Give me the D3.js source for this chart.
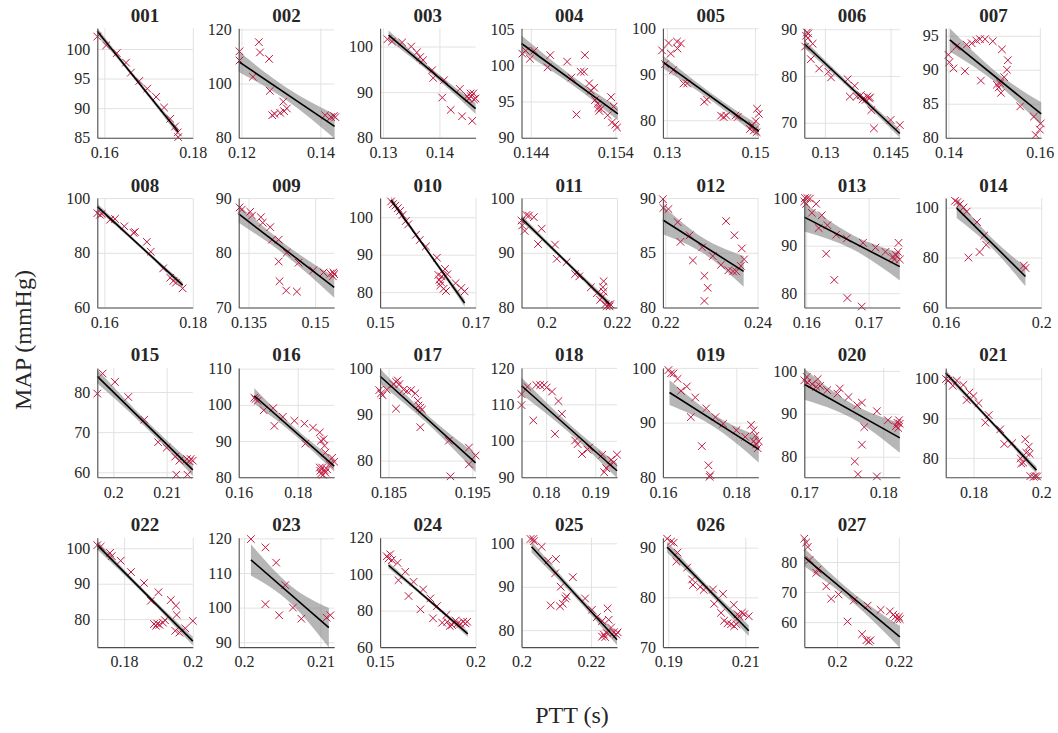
<!DOCTYPE html>
<html><head><meta charset="utf-8">
<script src="https://cdn.jsdelivr.net/npm/d3@7"></script>
<style>
body{margin:0;background:#fff}
svg{display:block}
text{font-family:"Liberation Serif",serif;fill:#262626}
</style>
</head><body>
<svg id="c" width="1058" height="733"></svg>
<script>
// ---------------- DATA ----------------
const panelIds = ["001","002","003","004","005","006","007","008","009","010","011","012","013","014","015","016","017","018","019","020","021","022","023","024","025","026","027"];

const xDomains = [[0.1584,0.18],[0.1193,0.1435],[0.1295,0.1464],[0.1429,0.1542],[0.1291,0.1508],[0.1253,0.1471],[0.1394,0.1603],
  [0.1584,0.18],[0.1328,0.1543],[0.15,0.17],[0.1929,0.22],[0.2195,0.2402],[0.1597,0.175],[0.16,0.2],
  [0.197,0.2149],[0.16,0.1924],[0.184,0.1954],[0.175,0.1944],[0.16,0.186],[0.17,0.1821],[0.1718,0.2],
  [0.1722,0.2],[0.1993,0.2118],[0.15,0.2],[0.2,0.2275],[0.1886,0.2134],[0.1894,0.2203]];
const yDomains = [[85,103.5],[80,120.4],[80,104],[90,105.1],[76.2,100],[66.8,90.2],[80,96.1],
  [60,100],[70,90],[75.9,105.1],[80,100],[80,90],[77,100],[60,103.8],
  [58.75,86],[80,110.2],[76.4,100],[90,120],[80,100],[75.2,100.7],[75.1,102.7],
  [72.1,103],[88.6,120.2],[60,120],[76.1,101.3],[70,92],[51.7,88.1]];
const xTicks = [[0.16,0.18],[0.12,0.14],[0.13,0.14],[0.144,0.154],[0.13,0.15],[0.13,0.145],[0.14,0.16],
  [0.16,0.18],[0.135,0.15],[0.15,0.17],[0.2,0.22],[0.22,0.24],[0.16,0.17],[0.16,0.2],
  [0.2,0.21],[0.16,0.18],[0.185,0.195],[0.18,0.19],[0.16,0.18],[0.17,0.18],[0.18,0.2],
  [0.18,0.2],[0.2,0.21],[0.15,0.2],[0.2,0.22],[0.19,0.21],[0.2,0.22]];
const yTicks = [[85,90,95,100],[80,100,120],[80,90,100],[90,95,100,105],[80,90,100],[70,80,90],[80,85,90,95],
  [60,80,100],[70,80,90],[80,90,100],[80,90,100],[80,85,90],[80,90,100],[60,80,100],
  [60,70,80],[80,90,100,110],[80,90,100],[90,100,110,120],[80,90,100],[80,90,100],[80,90,100],
  [80,90,100],[90,100,110,120],[60,80,100,120],[80,90,100],[70,80,90],[60,70,80]];

// regression line end points [xStart, yStart, xEnd, yEnd]
const fitLines = [[0.1584,103.0,0.1767,86.0],[0.1193,108.1,0.1436,84.2],[0.1310,102.5,0.1464,86.4],[0.1429,103.0,0.1543,93.3],
  [0.1291,92.7,0.1509,77.6],[0.1253,86.9,0.1471,67.7],[0.1403,94.4,0.1603,83.5],[0.1584,96.9,0.1777,68.2],
  [0.1328,87.1,0.1543,73.7],[0.1523,104.6,0.1677,77.1],[0.1929,96.3,0.2179,80.6],[0.2195,88.0,0.2370,83.3],
  [0.1597,96.0,0.1750,85.6],[0.1646,99.8,0.1934,72.4],[0.1970,83.9,0.2149,60.6],[0.1653,102.5,0.1924,83.1],
  [0.1840,98.2,0.1954,79.5],[0.1750,115.1,0.1944,91.8],[0.1618,95.5,0.1861,85.1],[0.1700,96.9,0.1821,84.4],
  [0.1718,101.4,0.1986,76.9],[0.1722,100.9,0.2000,73.8],[0.2009,113.8,0.2111,94.2],[0.1544,104.9,0.1959,67.2],
  [0.2029,99.2,0.2275,77.8],[0.1897,90.1,0.2109,73.3],[0.1894,81.6,0.2203,55.1]];
// confidence band half-width at start, middle, end of the line
const bandHalf = [[0.6,0.35,0.6],[3.8,2.3,4.5],[1.0,0.6,1.2],[1.1,0.6,0.9],[1.4,0.8,1.3],[0.9,0.5,0.9],[1.7,0.8,1.7],
  [1.1,0.6,1.1],[1.6,1.0,1.9],[0.9,0.5,1.0],[0.6,0.35,0.6],[1.3,0.7,1.4],[3.0,1.5,2.9],[4.0,2.0,3.9],
  [1.7,0.9,1.5],[2.1,1.0,1.6],[1.6,0.9,2.0],[2.3,1.2,2.0],[2.3,1.1,2.4],[3.6,1.7,3.5],[0.8,0.5,0.9],
  [1.2,0.6,1.2],[4.5,2.5,5.7],[1.6,0.9,1.6],[1.3,0.7,1.3],[1.1,0.6,1.1],[3.0,1.6,3.6]];

// measurements [PTT, MAP]
const pts001 = [[0.1584,102.1],[0.1604,100.6],[0.1628,99.3],[0.1649,97.7],[0.1660,96.0],[0.1679,94.6],[0.1697,93.3],[0.1717,91.9],[0.1735,90.1],[0.1749,88.2],[0.1760,86.9],[0.1766,85.9],[0.1767,85.1]];
const pts002 = [[0.1195,111.9],[0.1195,108.5],[0.1229,102.5],[0.1244,115.3],[0.1247,111.5],[0.1270,109.1],[0.1272,97.3],[0.1278,88.3],[0.1284,88.8],[0.1298,89.2],[0.1306,93.3],[0.1308,89.8],[0.1315,90.8],[0.1412,88.3],[0.1427,87.6],[0.1434,88.0],[0.1438,87.6]];
const pts003 = [[0.1308,101.6],[0.1316,101.1],[0.1334,100.9],[0.1350,100.0],[0.1360,98.7],[0.1366,97.7],[0.1371,97.0],[0.1387,94.8],[0.1389,93.1],[0.1408,92.6],[0.1405,88.8],[0.1420,86.1],[0.1436,90.7],[0.1440,84.7],[0.1449,89.1],[0.1452,88.6],[0.1455,89.7],[0.1456,89.0],[0.1458,83.7],[0.1460,89.7],[0.1461,88.4],[0.1464,88.6]];
const pts004 = [[0.1430,101.6],[0.1434,102.0],[0.1439,100.9],[0.1444,102.0],[0.1460,99.7],[0.1463,101.4],[0.1483,100.5],[0.1488,98.3],[0.1494,93.2],[0.1499,99.1],[0.1503,99.1],[0.1504,101.4],[0.1509,97.5],[0.1511,96.5],[0.1515,96.9],[0.1516,95.2],[0.1519,94.7],[0.1520,94.1],[0.1521,93.7],[0.1523,94.0],[0.1531,93.1],[0.1535,95.6],[0.1536,92.1],[0.1538,94.3],[0.1540,91.8],[0.1542,91.4]];
const pts005 = [[0.1289,95.2],[0.1296,92.2],[0.1304,96.8],[0.1309,94.5],[0.1314,90.9],[0.1323,97.1],[0.1324,95.6],[0.1332,96.7],[0.1338,88.0],[0.1346,88.0],[0.1385,84.0],[0.1391,84.5],[0.1423,81.0],[0.1429,80.7],[0.1435,81.0],[0.1456,81.0],[0.1461,80.7],[0.1489,78.1],[0.1494,78.9],[0.1498,77.8],[0.1502,79.8],[0.1504,77.4],[0.1505,82.5],[0.1509,81.4]];
const pts006 = [[0.1255,86.3],[0.1257,88.6],[0.1259,89.3],[0.1261,88.1],[0.1262,89.1],[0.1268,83.6],[0.1272,86.9],[0.1287,81.6],[0.1308,80.9],[0.1314,79.7],[0.1352,79.3],[0.1357,75.6],[0.1368,77.9],[0.1373,75.6],[0.1382,75.9],[0.1386,75.0],[0.1393,74.9],[0.1397,75.6],[0.1401,75.2],[0.1403,75.4],[0.1406,72.7],[0.1412,68.8],[0.1450,70.6],[0.1471,69.5]];
const pts007 = [[0.1400,92.2],[0.1402,91.1],[0.1411,90.2],[0.1417,93.4],[0.1436,89.8],[0.1440,93.7],[0.1451,93.9],[0.1461,94.3],[0.1469,94.5],[0.1471,88.4],[0.1480,94.5],[0.1497,94.2],[0.1506,87.8],[0.1510,87.4],[0.1513,88.0],[0.1515,86.6],[0.1517,93.0],[0.1522,88.9],[0.1528,90.0],[0.1530,91.4],[0.1557,84.6],[0.1587,83.1],[0.1591,80.4],[0.1600,81.2],[0.1602,82.1]];
const pts008 = [[0.1584,94.5],[0.1590,93.9],[0.1594,94.2],[0.1613,92.1],[0.1624,92.4],[0.1645,89.7],[0.1666,87.3],[0.1669,87.6],[0.1696,84.0],[0.1705,80.4],[0.1733,74.3],[0.1749,70.9],[0.1756,69.7],[0.1762,69.1],[0.1777,67.0]];
const pts009 = [[0.1330,88.3],[0.1335,87.9],[0.1354,87.5],[0.1358,86.8],[0.1378,86.5],[0.1382,85.5],[0.1399,84.7],[0.1403,82.4],[0.1418,82.4],[0.1418,78.4],[0.1420,74.8],[0.1436,80.0],[0.1435,73.1],[0.1459,72.9],[0.1463,78.2],[0.1496,76.8],[0.1519,76.4],[0.1535,76.2],[0.1540,75.7],[0.1541,76.4],[0.1543,76.1]];
const pts010 = [[0.1523,104.2],[0.1527,103.5],[0.1532,103.1],[0.1537,102.4],[0.1542,101.7],[0.1547,100.6],[0.1554,99.0],[0.1559,98.1],[0.1575,95.3],[0.1583,93.9],[0.1596,92.2],[0.1619,89.2],[0.1622,84.6],[0.1624,83.3],[0.1626,81.8],[0.1627,82.7],[0.1629,84.2],[0.1633,80.9],[0.1636,86.2],[0.1638,80.3],[0.1641,84.8],[0.1658,82.4],[0.1670,81.1],[0.1677,80.2]];
const pts011 = [[0.1929,95.9],[0.1931,95.0],[0.1938,94.0],[0.1943,96.9],[0.1950,96.8],[0.1964,96.5],[0.1976,91.6],[0.1986,94.4],[0.2024,91.5],[0.2029,88.9],[0.2057,88.3],[0.2081,86.1],[0.2093,85.7],[0.2126,83.7],[0.2143,82.6],[0.2152,81.4],[0.2160,82.0],[0.2162,84.8],[0.2160,83.7],[0.2162,82.9],[0.2167,80.6],[0.2171,80.2],[0.2176,80.5],[0.2179,80.2],[0.2181,80.6]];
const pts012 = [[0.2195,89.9],[0.2196,89.1],[0.2207,89.0],[0.2227,87.8],[0.2233,86.0],[0.2253,86.6],[0.2260,84.3],[0.2280,85.5],[0.2285,82.9],[0.2292,81.8],[0.2285,80.6],[0.2303,84.7],[0.2321,83.9],[0.2332,87.9],[0.2337,83.4],[0.2347,83.3],[0.2350,86.6],[0.2354,83.3],[0.2364,83.8],[0.2366,85.4],[0.2371,84.4]];
const pts013 = [[0.1597,99.3],[0.1598,100.0],[0.1600,98.8],[0.1602,100.0],[0.1606,99.9],[0.1609,96.9],[0.1616,98.8],[0.1620,93.7],[0.1625,96.4],[0.1632,88.3],[0.1634,94.3],[0.1645,82.8],[0.1648,92.3],[0.1665,91.5],[0.1666,79.0],[0.1689,77.2],[0.1691,90.6],[0.1711,89.6],[0.1727,88.7],[0.1739,87.7],[0.1741,87.1],[0.1744,88.0],[0.1747,88.7],[0.1748,90.6],[0.1750,87.1]];
const pts014 = [[0.1639,102.7],[0.1649,102.2],[0.1660,101.4],[0.1674,100.0],[0.1688,98.4],[0.1731,94.2],[0.1761,88.8],[0.1770,85.1],[0.1742,82.2],[0.1695,80.0],[0.1927,76.8],[0.1934,75.8]];
const pts015 = [[0.1970,79.6],[0.1980,84.6],[0.2003,82.5],[0.2028,78.75],[0.2058,73.1],[0.2084,67.5],[0.2100,66.1],[0.2116,63.9],[0.2118,59.4],[0.2124,62.9],[0.2138,63.3],[0.2139,59.4],[0.2143,62.75],[0.2145,63.3],[0.2149,62.9]];
const pts016 = [[0.1653,102.0],[0.1657,101.6],[0.1664,101.1],[0.1685,98.5],[0.1717,99.1],[0.1721,94.2],[0.1750,96.7],[0.1789,95.6],[0.1823,94.8],[0.1826,89.3],[0.1852,93.7],[0.1875,92.4],[0.1879,90.1],[0.1888,90.5],[0.1891,88.7],[0.1894,86.8],[0.1875,82.7],[0.1877,81.8],[0.1879,81.0],[0.1883,82.7],[0.1886,80.7],[0.1891,82.0],[0.1894,81.3],[0.1900,82.2],[0.1908,83.6],[0.1917,85.4],[0.1924,84.3]];
const pts017 = [[0.1839,95.2],[0.1841,94.5],[0.1843,94.1],[0.1848,95.3],[0.1856,96.5],[0.1859,97.0],[0.1861,97.3],[0.1859,91.2],[0.1863,96.5],[0.1868,95.3],[0.1872,95.0],[0.1877,95.2],[0.1882,94.5],[0.1885,92.9],[0.1886,91.9],[0.1888,91.4],[0.1890,91.0],[0.1888,87.2],[0.1922,84.3],[0.1924,76.6],[0.1946,82.8],[0.1946,79.2],[0.1954,81.1]];
const pts018 = [[0.1750,109.8],[0.1750,112.8],[0.1762,114.8],[0.1774,105.6],[0.1780,115.3],[0.1788,115.3],[0.1796,115.3],[0.1801,114.6],[0.1812,113.5],[0.1818,101.9],[0.1825,110.9],[0.1832,107.4],[0.1859,100.1],[0.1864,99.1],[0.1873,96.4],[0.1884,97.6],[0.1888,98.2],[0.1914,96.2],[0.1918,91.4],[0.1922,92.5],[0.1929,93.4],[0.1932,94.8],[0.1937,94.1],[0.1944,96.2]];
const pts019 = [[0.1615,99.6],[0.1622,99.0],[0.1629,99.0],[0.1640,98.0],[0.1649,95.8],[0.1665,96.6],[0.1676,91.0],[0.1688,94.6],[0.1706,85.7],[0.1718,92.6],[0.1724,82.2],[0.1729,80.4],[0.1727,80.1],[0.1743,91.0],[0.1764,89.8],[0.1800,88.6],[0.1824,87.4],[0.1840,89.6],[0.1847,88.6],[0.1852,87.6],[0.1854,86.0],[0.1858,85.3],[0.1861,86.6],[0.1847,86.6]];
const pts020 = [[0.1700,97.8],[0.1703,98.6],[0.1704,97.3],[0.1710,96.9],[0.1715,96.3],[0.1717,98.1],[0.1720,96.5],[0.1729,95.5],[0.1742,94.7],[0.1745,95.9],[0.1756,93.9],[0.1767,92.0],[0.1773,92.6],[0.1776,86.9],[0.1773,82.8],[0.1764,78.9],[0.1768,75.9],[0.1792,75.4],[0.1792,90.6],[0.1806,88.5],[0.1816,87.1],[0.1818,87.9],[0.1819,86.7],[0.1820,88.5],[0.1821,87.7]];
const pts021 = [[0.1719,99.9],[0.1726,99.5],[0.1739,98.2],[0.1751,99.5],[0.1770,98.4],[0.1780,94.6],[0.1788,96.5],[0.1800,95.6],[0.1815,93.8],[0.1835,88.9],[0.1845,90.8],[0.1879,87.2],[0.1891,83.5],[0.1914,83.7],[0.1939,79.9],[0.1941,78.6],[0.1947,78.8],[0.1953,84.7],[0.1956,81.3],[0.1963,82.8],[0.1966,81.0],[0.1968,75.4],[0.1978,75.2],[0.1983,75.4],[0.1988,75.3]];
const pts022 = [[0.1722,100.9],[0.1732,100.5],[0.1759,98.7],[0.1764,97.8],[0.1790,96.5],[0.1820,93.3],[0.1858,90.2],[0.1878,85.2],[0.1900,87.6],[0.1887,78.6],[0.1893,78.1],[0.1897,78.7],[0.1903,78.4],[0.1913,79.0],[0.1919,79.7],[0.1936,85.4],[0.1951,83.8],[0.1953,81.2],[0.1949,76.7],[0.1961,76.2],[0.1978,77.4],[0.2000,79.5]];
const pts023 = [[0.2009,119.8],[0.2028,117.4],[0.2028,101.0],[0.2042,113.0],[0.2046,97.8],[0.2054,106.5],[0.2064,100.0],[0.2075,96.8],[0.2108,97.1],[0.2113,97.8]];
const pts024 = [[0.1535,109.8],[0.1544,108.6],[0.1553,110.9],[0.1562,107.7],[0.1591,106.2],[0.1596,96.7],[0.1632,101.3],[0.1649,88.0],[0.1675,95.8],[0.1711,80.7],[0.1725,91.6],[0.1763,86.7],[0.1777,75.8],[0.1798,82.5],[0.1825,73.4],[0.1847,77.6],[0.1851,73.9],[0.1865,71.6],[0.1877,72.1],[0.1895,74.5],[0.1907,73.0],[0.1921,72.7],[0.1935,73.9],[0.1947,73.0],[0.1956,73.9]];
const pts025 = [[0.2026,101.0],[0.2034,101.0],[0.2036,100.5],[0.2058,99.2],[0.2077,96.0],[0.2084,85.7],[0.2099,96.4],[0.2097,93.1],[0.2111,85.5],[0.2113,90.0],[0.2119,86.1],[0.2126,87.3],[0.2130,87.8],[0.2148,92.2],[0.2183,87.3],[0.2203,84.7],[0.2217,83.0],[0.2232,82.1],[0.2232,78.5],[0.2237,79.0],[0.2241,78.4],[0.2246,79.3],[0.2248,85.0],[0.2251,82.4],[0.2258,80.6],[0.2266,79.5],[0.2273,79.0],[0.2277,79.5]];
const pts026 = [[0.1897,91.8],[0.1907,91.2],[0.1914,91.0],[0.1924,89.0],[0.1921,87.2],[0.1949,86.0],[0.1962,83.6],[0.1964,82.5],[0.1983,82.1],[0.1992,81.5],[0.2016,81.6],[0.2019,78.7],[0.2037,76.9],[0.2042,80.7],[0.2045,75.3],[0.2054,74.8],[0.2063,74.6],[0.2071,74.2],[0.2077,74.6],[0.2070,78.5],[0.2080,76.6],[0.2085,76.2],[0.2091,76.9],[0.2097,76.6],[0.2109,76.2]];
const pts027 = [[0.1894,87.8],[0.1900,86.5],[0.1905,85.0],[0.1911,80.7],[0.1933,76.4],[0.1937,77.5],[0.1965,71.9],[0.1981,67.8],[0.2005,69.2],[0.2034,60.2],[0.2054,67.2],[0.2081,56.0],[0.2095,54.0],[0.2103,53.5],[0.2108,54.0],[0.2099,65.5],[0.2141,64.1],[0.2171,63.6],[0.2182,62.5],[0.2189,61.8],[0.2195,61.0],[0.2203,61.0],[0.2200,61.8]];

const points = [pts001,pts002,pts003,pts004,pts005,pts006,pts007,pts008,pts009,pts010,pts011,pts012,pts013,pts014,
  pts015,pts016,pts017,pts018,pts019,pts020,pts021,pts022,pts023,pts024,pts025,pts026,pts027];

const xLabel = "PTT (s)";
const yLabel = "MAP (mmHg)";

// ---------------- DRAW ----------------
const svg = d3.select("#c");
const W = 95.5, H = 109.4;
const colStep = 141.4, rowStep = 169.8, left0 = 97.3, top0 = 28.3;
const markerColor = "#c2183f";
const fmt = v => String(+v.toFixed(4));
const serif = '"Liberation Serif", serif';

panelIds.forEach((id, i) => {
  const c = i % 7, r = Math.floor(i / 7);
  const g = svg.append("g").attr("transform", `translate(${left0 + c*colStep},${top0 + r*rowStep})`);
  const x = d3.scaleLinear().domain(xDomains[i]).range([0, W]);
  const y = d3.scaleLinear().domain(yDomains[i]).range([H, 0]);

  // grid
  const gx = g.append("g").attr("transform", `translate(0,${H})`)
    .call(d3.axisBottom(x).tickValues(xTicks[i]).tickSize(-H).tickFormat(""));
  const gy = g.append("g")
    .call(d3.axisLeft(y).tickValues(yTicks[i]).tickSize(-W).tickFormat(""));
  [gx, gy].forEach(a => { a.select(".domain").remove(); a.selectAll("line").attr("stroke", "#e2e2e2").attr("stroke-width", 1); });

  // confidence band
  const [fx0, fy0, fx1, fy1] = fitLines[i];
  const bh = bandHalf[i];
  const bandPts = [0, 0.5, 1].map((t, k) => ({ x: fx0 + t*(fx1 - fx0), y: fy0 + t*(fy1 - fy0), h: bh[k] }));
  g.append("path").datum(bandPts)
    .attr("d", d3.area().x(d => x(d.x)).y0(d => y(d.y - d.h)).y1(d => y(d.y + d.h)).curve(d3.curveNatural))
    .attr("fill", "#7a7a7a").attr("fill-opacity", 0.55);

  // points
  g.append("g").selectAll("path").data(points[i]).join("path")
    .attr("transform", d => `translate(${x(d[0])},${y(d[1])})`)
    .attr("d", "M-3.8,-3.8L3.8,3.8M-3.8,3.8L3.8,-3.8")
    .attr("stroke", markerColor).attr("stroke-width", 1).attr("fill", "none");

  // regression line
  g.append("line")
    .attr("x1", x(fx0)).attr("y1", y(fy0)).attr("x2", x(fx1)).attr("y2", y(fy1))
    .attr("stroke", "#000").attr("stroke-width", 1.6);

  // axes
  const ax = g.append("g").attr("transform", `translate(0,${H})`)
    .call(d3.axisBottom(x).tickValues(xTicks[i]).tickSize(0).tickSizeOuter(0).tickPadding(9).tickFormat(fmt));
  const ay = g.append("g")
    .call(d3.axisLeft(y).tickValues(yTicks[i]).tickSize(0).tickSizeOuter(0).tickPadding(7).tickFormat(fmt));
  [ax, ay].forEach(a => {
    a.attr("font-family", serif).attr("font-size", 16);
    a.select(".domain").attr("stroke", "#4d4d4d").attr("stroke-width", 1.1);
    a.selectAll("text").style("font-family", serif).style("font-size", "16px").attr("fill", "#262626");
  });

  // title
  g.append("text").attr("x", W/2).attr("y", -6.5).attr("text-anchor", "middle")
    .style("font-family", serif).style("font-size", "19px").style("font-weight", "bold").attr("fill", "#111").text(id);
});

svg.append("text").attr("transform", "translate(31,340) rotate(-90)").attr("text-anchor", "middle")
  .style("font-family", serif).style("font-size", "24px").text(yLabel);
svg.append("text").attr("x", 572).attr("y", 723).attr("text-anchor", "middle")
  .style("font-family", serif).style("font-size", "24px").text(xLabel);
</script>
</body></html>
